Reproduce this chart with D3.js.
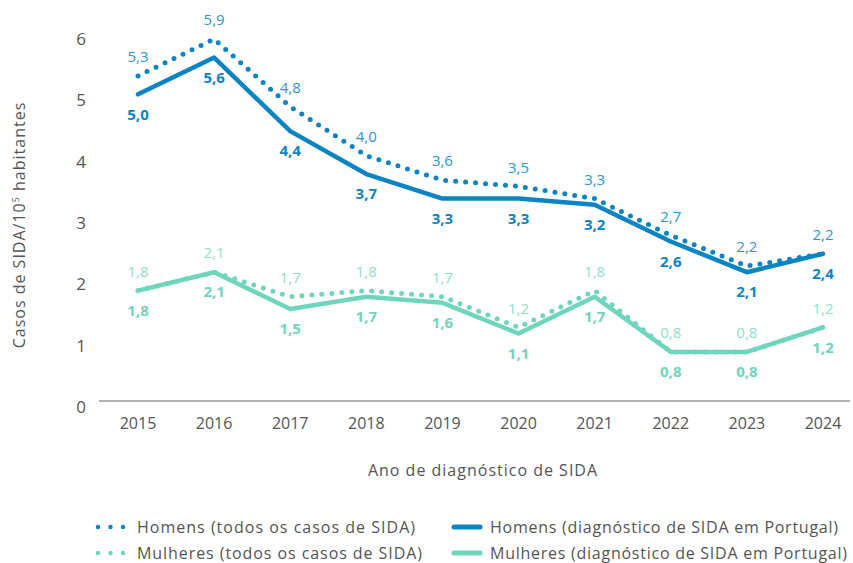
<!DOCTYPE html>
<html>
<head>
<meta charset="utf-8">
<script src="https://cdn.jsdelivr.net/npm/d3@7"></script>
<style>
  body { margin: 0; background: #fff; }
  text { font-family: 'Open Sans', sans-serif; }
</style>
</head>
<body>
<script>

var years = [2015, 2016, 2017, 2018, 2019, 2020, 2021, 2022, 2023, 2024];
var homensTodos = [5.3, 5.9, 4.8, 4.0, 3.6, 3.5, 3.3, 2.7, 2.2, 2.4];
var homensTodosLabels = ['5,3', '5,9', '4,8', '4,0', '3,6', '3,5', '3,3', '2,7', '2,2', '2,2'];
var homensPT = [5.0, 5.6, 4.4, 3.7, 3.3, 3.3, 3.2, 2.6, 2.1, 2.4];
var mulheresTodos = [1.8, 2.1, 1.7, 1.8, 1.7, 1.2, 1.8, 0.8, 0.8, 1.2];
var mulheresPT = [1.8, 2.1, 1.5, 1.7, 1.6, 1.1, 1.7, 0.8, 0.8, 1.2];
var yTicks = [0, 1, 2, 3, 4, 5, 6];

var width = 853, height = 563;
var blue = '#0b84c4', blueLight = '#2a97d3';
var teal = '#6fd6bd', tealLight = '#8ee0cb';

var svg = d3.select('body').append('svg')
  .attr('width', width)
  .attr('height', height);

var x = d3.scaleLinear().domain([2015, 2024]).range([138, 823]);
var y = d3.scaleLinear().domain([0, 6]).range([401, 33]);

// axis line
svg.append('line')
  .attr('x1', 99).attr('x2', 850)
  .attr('y1', y(0)).attr('y2', y(0))
  .style('stroke', '#666').style('stroke-width', 1);

svg.append('g').selectAll('text')
  .data(yTicks)
  .enter().append('text')
  .attr('x', 81)
  .attr('y', function (d) { return y(d) + 6; })
  .attr('dy', '0.35em')
  .attr('text-anchor', 'middle')
  .style('font-size', '17px')
  .style('fill', '#555')
  .text(function (d) { return d; });

svg.append('g').selectAll('text')
  .data(years)
  .enter().append('text')
  .attr('x', function (d) { return x(d); })
  .attr('y', 423)
  .attr('dy', '0.35em')
  .attr('text-anchor', 'middle')
  .style('font-size', '16px')
  .style('fill', '#555')
  .text(function (d) { return d; });

svg.append('text')
  .attr('x', 483).attr('y', 470)
  .attr('dy', '0.35em')
  .attr('text-anchor', 'middle')
  .style('font-size', '16px')
  .style('letter-spacing', '1px')
  .style('fill', '#555')
  .text('Ano de diagnóstico de SIDA');

var yt = svg.append('text')
  .attr('transform', 'translate(25,225) rotate(-90)')
  .attr('text-anchor', 'middle')
  .style('font-size', '16px')
  .style('letter-spacing', '1px')
  .style('fill', '#555');
yt.append('tspan').text('Casos de SIDA/10');
yt.append('tspan').attr('dy', -6).style('font-size', '9px').text('5');
yt.append('tspan').attr('dy', 6).text(' habitantes');

var line = d3.line()
  .x(function (d, i) { return x(years[i]); })
  .y(function (d) { return y(d); });

function drawSeries(values, color, dotted) {
  svg.append('path')
    .datum(values)
    .attr('d', line)
    .style('fill', 'none')
    .style('stroke', color)
    .style('stroke-width', dotted ? 5 : 4.5)
    .style('stroke-linecap', 'round')
    .style('stroke-linejoin', 'round')
    .style('stroke-dasharray', dotted ? '0,10' : null);
}

function drawLabels(values, labels, color, above, bold) {
  svg.append('g').selectAll('text')
    .data(values)
    .enter().append('text')
    .attr('x', function (d, i) { return x(years[i]); })
    .attr('y', function (d) { return y(d) + (above ? -19 : 20); })
    .attr('dy', '0.35em')
    .attr('text-anchor', 'middle')
    .style('font-size', '15px')
    .style('font-weight', bold ? 700 : 400)
    .style('fill', color)
    .text(function (d, i) { return labels ? labels[i] : d3.format('.1f')(d).replace('.', ','); });
}

drawSeries(homensTodos, blue, true);
drawSeries(homensPT, blue, false);
drawSeries(mulheresTodos, teal, true);
drawSeries(mulheresPT, teal, false);

drawLabels(homensTodos, homensTodosLabels, blueLight, true, false);
drawLabels(homensPT, null, blue, false, true);
drawLabels(mulheresTodos, null, tealLight, true, false);
drawLabels(mulheresPT, null, teal, false, true);

// legend
var legend = [
  { name: 'Homens (todos os casos de SIDA)', color: blue, dotted: true, x: 98, y: 527, w: 278 },
  { name: 'Homens (diagnóstico de SIDA em Portugal)', color: blue, dotted: false, x: 454, y: 527, w: 348 },
  { name: 'Mulheres (todos os casos de SIDA)', color: teal, dotted: true, x: 98, y: 553, w: 285 },
  { name: 'Mulheres (diagnóstico de SIDA em Portugal)', color: teal, dotted: false, x: 454, y: 553, w: 357 }
];
var lg = svg.append('g').selectAll('g')
  .data(legend)
  .enter().append('g')
  .attr('transform', function (d) { return 'translate(' + d.x + ',' + d.y + ')'; });
lg.append('line')
  .attr('x1', 0).attr('x2', function (d) { return d.dotted ? 25.5 : 26; })
  .style('stroke', function (d) { return d.color; })
  .style('stroke-width', function (d) { return d.dotted ? 4.5 : 5; })
  .style('stroke-linecap', 'round')
  .style('stroke-dasharray', function (d) { return d.dotted ? '0,12.5' : null; });
lg.append('text')
  .attr('x', function (d) { return d.dotted ? 39 : 36; })
  .attr('dy', '0.35em')
  .attr('textLength', function (d) { return d.w; })
  .attr('lengthAdjust', 'spacing')
  .style('font-size', '16px')
  .style('fill', '#555')
  .text(function (d) { return d.name; });

</script>
</body>
</html>
